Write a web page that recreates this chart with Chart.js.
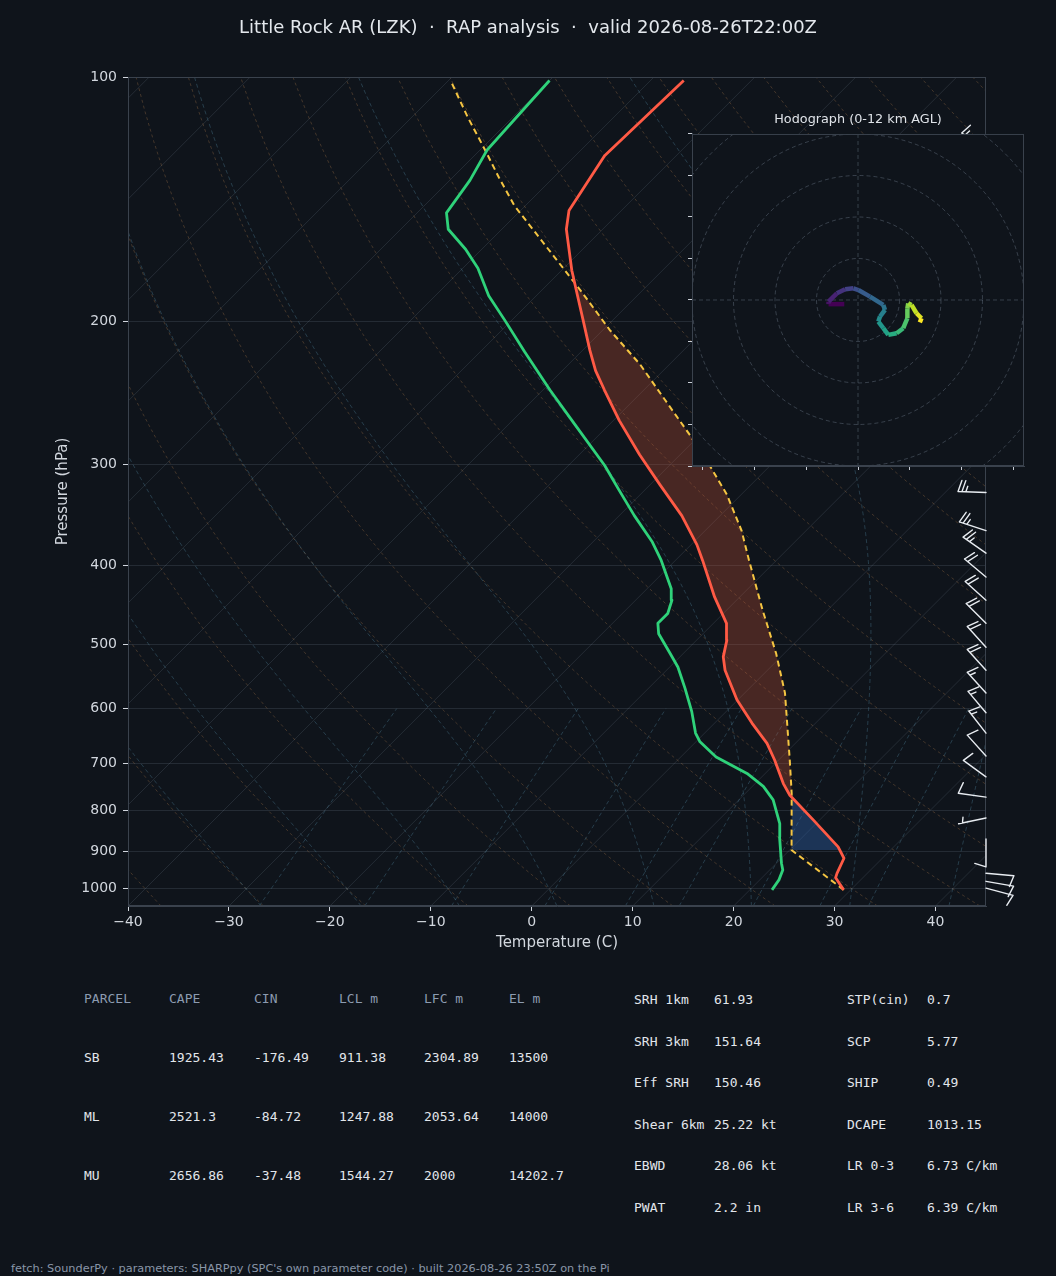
<!DOCTYPE html>
<html>
<head>
<meta charset="utf-8">
<script src="https://cdn.jsdelivr.net/npm/chart.js@4.4.1/dist/chart.umd.min.js"></script>
<style>
html, body { margin: 0; padding: 0; background: #0f141b; }
body { width: 1056px; height: 1276px; position: relative; overflow: hidden; font-family: 'DejaVu Sans', sans-serif; }
#skew { position: absolute; left: 0; top: 0; }
#hodo { position: absolute; left: 680px; top: 100px; }
#title { position: absolute; left: 0; top: 16px; width: 1056px; text-align: center; color: #e4e8ed; font-size: 18px; line-height: 22px; white-space: pre; z-index: 5; }
.cell { position: absolute; font-family: 'DejaVu Sans Mono', monospace; font-size: 13px; white-space: pre; line-height: 16px; margin-top: -8px; }
.hd { color: #8c9bb0; }
.val { color: #e2e6eb; }
#footer { position: absolute; left: 11px; top: 1262px; font-size: 11.3px; color: #8996a8; white-space: pre; }
</style>
</head>
<body>
<canvas id="skew" width="1056" height="970"></canvas>
<canvas id="hodo" width="356" height="376"></canvas>
<div id="title">Little Rock AR (LZK)  ·  RAP analysis  ·  valid 2026-08-26T22:00Z</div>
<div id="table"></div>
<div id="footer">fetch: SounderPy · parameters: SHARPpy (SPC's own parameter code) · built 2026-08-26 23:50Z on the Pi</div>
<script>
// ---- sounding ----
const tempP = [1003, 969, 957, 917, 888, 823, 767, 742, 694, 662, 625, 585, 538, 518, 494, 471, 437, 394, 377, 347, 318, 292, 265, 243, 230, 217, 199, 186, 173, 154, 146, 125, 101]
const tempT = [29.3, 27.3, 27.0, 26.2, 24.5, 19.4, 14.6, 12.8, 9.6, 7.2, 3.7, -0.1, -4.2, -5.7, -7.0, -8.7, -12.5, -17.3, -19.4, -23.8, -29.0, -34.0, -39.4, -43.9, -46.7, -49.3, -53.0, -55.9, -59.0, -63.6, -65.2, -67.1, -66.7]

const dewP = [1003, 975, 948, 930, 863, 831, 777, 748, 721, 688, 659, 643, 605, 566, 533, 513, 485, 471, 458, 441, 427, 394, 374, 347, 323, 301, 268, 243, 218, 200, 186, 172, 163, 154, 147, 134, 123, 101]
const dewT = [22.2, 21.9, 21.3, 20.5, 17.7, 16.4, 13.4, 11.1, 8.2, 3.5, 0.4, -0.9, -3.4, -6.4, -9.2, -11.3, -14.4, -15.5, -15.5, -16.4, -17.6, -21.4, -24.1, -28.5, -32.5, -36.4, -43.4, -49.3, -55.6, -60.5, -64.7, -68.5, -71.6, -75.3, -77.1, -78.0, -79.3, -80.0]

const parcelP = [1003, 896, 763, 694, 574, 513, 454, 394, 362, 327, 301, 276, 250, 226, 205, 183, 163, 144, 133, 123, 112, 101]
const parcelT = [29.3, 20.2, 14.6, 11.1, 4.0, -0.8, -6.4, -12.7, -16.4, -21.4, -26.0, -31.0, -36.9, -42.9, -49.3, -56.2, -63.4, -71.1, -75.4, -79.5, -84.5, -89.8]

const lclP = 896
const lfcP = 765
const elP = 182

// ---- winds ----
const barbP = [122, 325, 362, 386, 413, 441, 471, 504, 538, 574, 607, 643, 686, 728, 771, 818, 868, 957, 979, 998]
const barbDir = [300, 272, 288, 305, 310, 312, 315, 318, 318, 318, 320, 322, 318, 306, 278, 258, 180, 95, 100, 105]
const barbKt = [15, 25, 25, 25, 20, 20, 20, 20, 20, 15, 15, 15, 10, 10, 10, 5, 10, 10, 10, 10]

const hodoU = [-3.3, -7.1, -7.1, -5.1, -3.1, -1.1, 0.1, 2.9, 6.1, 6.5, 5.3, 4.9, 6.1, 7.3, 9.3, 10.9, 11.9, 11.9, 12.1, 12.9, 14.1, 15.3, 14.9]
const hodoV = [-1.0, -1.0, -0.4, 1.6, 2.6, 2.8, 2.4, 0.8, -1.2, -2.4, -4.0, -5.2, -6.8, -8.4, -8.0, -6.8, -4.4, -2.0, -0.8, -1.2, -3.2, -4.4, -5.4]
const hodoRings = [10, 20, 30, 40, 50]

// ---- ticks ----
const tempTicks = [-40, -30, -20, -10, 0, 10, 20, 30, 40]
const presTicks = [100, 200, 300, 400, 500, 600, 700, 800, 900, 1000]
const hodoTicksV = [-40, -30, -20, -10, 0, 10, 20, 30, 40]
const hodoTicksU = [-37.5, -25, -12.5, 0, 12.5, 25, 37.5]

// ---- background reference lines ----
const isoT = [-130, -120, -110, -100, -90, -80, -70, -60, -50, -40, -30, -20, -10, 0, 10, 20, 30, 40]
const dryT0 = [-40, -30, -20, -10, 0, 10, 20, 30, 40, 50, 60, 70, 80, 90, 100, 110, 120, 130, 140, 150, 160, 170, 180, 190, 200]
const moistT0 = [-30, -20, -10, 0, 10, 20, 30, 40, 50]
const mixW = [0.4, 1, 2, 4, 7, 10, 16, 24, 32]

// ---- table text ----
const parcelHead = ['PARCEL', 'CAPE', 'CIN', 'LCL m', 'LFC m', 'EL m']
const parcelRows = [
    ['SB', '1925.43', '-176.49', '911.38', '2304.89', '13500'],
    ['ML', '2521.3', '-84.72', '1247.88', '2053.64', '14000'],
    ['MU', '2656.86', '-37.48', '1544.27', '2000', '14202.7']
]
const paramNamesA = ['SRH 1km', 'SRH 3km', 'Eff SRH', 'Shear 6km', 'EBWD', 'PWAT']
const paramValsA = ['61.93', '151.64', '150.46', '25.22 kt', '28.06 kt', '2.2 in']
const paramNamesB = ['STP(cin)', 'SCP', 'SHIP', 'DCAPE', 'LR 0-3', 'LR 3-6']
const paramValsB = ['0.7', '5.77', '0.49', '1013.15', '6.73 C/km', '6.39 C/km']

const BG = '#0f141b'
const FRAME = '#3a424d'
const LABEL = '#d2d7de'
const SKEW = 80.4   // degC shift per decade of pressure (45 deg isotherms)

function skewX(t, p) {
    return t + SKEW * Math.log10(1050 / p)
}

function prof(P, T) {
    return P.map((p, i) => ({ x: skewX(T[i], p), y: p }))
}

function interpLogP(P, T, p) {
    for (let i = 0; i < P.length - 1; i++) {
        if ((P[i] - p) * (P[i + 1] - p) <= 0) {
            const f = Math.log(p / P[i]) / Math.log(P[i + 1] / P[i])
            return T[i] + f * (T[i + 1] - T[i])
        }
    }
    return NaN
}

function slice(P, T, pBot, pTop) {
    const out = [{ p: pBot, t: interpLogP(P, T, pBot) }]
    P.forEach((p, i) => { if (p < pBot && p > pTop) out.push({ p: p, t: T[i] }) })
    out.push({ p: pTop, t: interpLogP(P, T, pTop) })
    return out
}

// closed area between parcel and environment
function region(pBot, pTop) {
    const a = slice(parcelP, parcelT, pBot, pTop)
    const b = slice(tempP, tempT, pBot, pTop).reverse()
    return a.concat(b).map(q => ({ x: skewX(q.t, q.p), y: q.p }))
}

// pressure levels for reference curves
const levels = []
for (let p = 1050; p >= 100; p -= 10) levels.push(p)

function dryLine(t0) {
    const th = t0 + 273.15
    return levels.map(p => ({ x: skewX(th * Math.pow(p / 1000, 0.2857) - 273.15, p), y: p }))
}

function dTdp(T, p) {
    const es = 6.112 * Math.exp(17.67 * (T - 273.15) / (T - 29.65))
    const rs = 0.622 * es / (p - es)
    const Lv = 2.501e6
    return (287.04 * T + Lv * rs) / (p * (1005.7 + Lv * Lv * rs * 0.622 / (287.04 * T * T)))
}

function moistLine(t0) {
    const pts = []
    let T = t0 + 273.15
    let p = 1000
    const low = []
    let Tl = T
    for (let q = 1000; q < 1050; q += 5) {
        const k1 = dTdp(Tl, q)
        const k2 = dTdp(Tl + k1 * 5, q + 5)
        Tl += 2.5 * (k1 + k2)
        low.push({ x: skewX(Tl - 273.15, q + 5), y: q + 5 })
    }
    low.reverse().forEach(o => pts.push(o))
    pts.push({ x: skewX(T - 273.15, p), y: p })
    while (p > 100) {
        const k1 = dTdp(T, p)
        const k2 = dTdp(T - k1 * 5, p - 5)
        T -= 2.5 * (k1 + k2)
        p -= 5
        pts.push({ x: skewX(T - 273.15, p), y: p })
    }
    return pts
}

function mixLine(w) {
    const pts = []
    for (let p = 1050; p >= 600; p -= 25) {
        const e = (w / 1000) * p / (0.622 + w / 1000)
        const l = Math.log(e / 6.112)
        pts.push({ x: skewX(243.5 * l / (17.67 - l), p), y: p })
    }
    return pts
}

function line(data, color, width, dash, order) {
    return {
        data: data, borderColor: color, borderWidth: width, borderDash: dash || [],
        pointRadius: 0, fill: false, order: order, tension: 0
    }
}

const datasets = []
isoT.forEach(t => datasets.push(line([{ x: skewX(t, 1050), y: 1050 }, { x: skewX(t, 100), y: 100 }], 'rgba(150,165,185,0.16)', 1, [], 20)))
dryT0.forEach(t => datasets.push(line(dryLine(t), 'rgba(205,145,85,0.28)', 1, [3, 3], 19)))
moistT0.forEach(t => datasets.push(line(moistLine(t), 'rgba(95,160,190,0.30)', 1, [4, 3], 18)))
mixW.forEach(w => datasets.push(line(mixLine(w), 'rgba(95,160,190,0.30)', 1, [4, 3], 17)))

datasets.push({
    data: region(lfcP, elP), borderWidth: 0, pointRadius: 0, fill: 'shape',
    backgroundColor: 'rgba(205,85,55,0.30)', order: 5
})
datasets.push({
    data: region(lclP, lfcP), borderWidth: 0, pointRadius: 0, fill: 'shape',
    backgroundColor: 'rgba(50,105,185,0.38)', order: 5
})
datasets.push(line(prof(parcelP, parcelT), '#f5c542', 2, [6, 4], 2))
datasets.push(Object.assign(line(prof(dewP, dewT), '#2fd27a', 2.8, [], 1), { borderJoinStyle: 'round' }))
datasets.push(Object.assign(line(prof(tempP, tempT), '#ff5a45', 2.8, [], 0), { borderJoinStyle: 'round' }))

function drawBarb(ctx, x, y, dirFrom, kt) {
    const L = 28
    const a = dirFrom * Math.PI / 180
    const dx = Math.sin(a), dy = -Math.cos(a)
    const px = -dy, py = dx
    const tx = x + dx * L, ty = y + dy * L
    const H = 0.4 * L, sp = 0.14 * L, lean = 0.125 * L
    ctx.beginPath()
    ctx.moveTo(x, y)
    ctx.lineTo(tx, ty)
    let rest = Math.round(kt / 5) * 5
    let pos = 0
    while (rest >= 50) {
        const ax = tx - dx * pos, ay = ty - dy * pos
        ctx.moveTo(ax, ay)
        ctx.lineTo(ax + px * H - dx * lean, ay + py * H - dy * lean)
        ctx.lineTo(ax - dx * 2 * lean, ay - dy * 2 * lean)
        pos += 2 * lean + sp
        rest -= 50
    }
    while (rest >= 10) {
        const ax = tx - dx * pos, ay = ty - dy * pos
        ctx.moveTo(ax, ay)
        ctx.lineTo(ax + px * H - dx * lean, ay + py * H - dy * lean)
        pos += sp
        rest -= 10
    }
    if (rest >= 5) {
        if (pos === 0) pos = sp
        const ax = tx - dx * pos, ay = ty - dy * pos
        ctx.moveTo(ax, ay)
        ctx.lineTo(ax + px * H / 2 - dx * lean / 2, ay + py * H / 2 - dy * lean / 2)
    }
    ctx.stroke()
}

const skewExtras = {
    id: 'skewExtras',
    afterDatasetsDraw(chart) {
        const { ctx, chartArea: a, scales } = chart
        ctx.save()
        ctx.strokeStyle = FRAME
        ctx.lineWidth = 1
        ctx.strokeRect(a.left + 0.5, a.top + 0.5, a.right - a.left - 1, a.bottom - a.top - 1)
        ctx.strokeStyle = '#e8ecf1'
        ctx.lineWidth = 1.4
        ctx.lineCap = 'round'
        barbP.forEach((p, i) => drawBarb(ctx, a.right, scales.y.getPixelForValue(p), barbDir[i], barbKt[i]))
        ctx.restore()
    }
}

new Chart(document.getElementById('skew'), {
    type: 'line',
    data: { datasets: datasets },
    options: {
        responsive: false,
        animation: false,
        events: [],
        layout: { padding: { left: 0, right: 70, top: 77, bottom: 0 } },
        plugins: { legend: { display: false }, tooltip: { enabled: false } },
        scales: {
            x: {
                type: 'linear', min: -40, max: 45,
                afterBuildTicks: s => { s.ticks = tempTicks.map(v => ({ value: v })) },
                afterFit: s => { s.height = 64 },
                grid: { drawOnChartArea: false, tickLength: 5, tickColor: LABEL },
                border: { color: FRAME },
                ticks: {
                    color: LABEL, padding: 3, maxRotation: 0,
                    font: { family: 'DejaVu Sans', size: 14 },
                    callback: v => String(v).replace('-', '\u2212')
                },
                title: {
                    display: true, text: 'Temperature (C)', color: LABEL,
                    font: { family: 'DejaVu Sans', size: 15 }, padding: { top: 0, bottom: 18 }
                }
            },
            y: {
                type: 'logarithmic', reverse: true, min: 100, max: 1050,
                afterBuildTicks: s => { s.ticks = presTicks.map(v => ({ value: v })) },
                afterFit: s => { s.width = 128 },
                grid: { color: 'rgba(150,165,185,0.16)', tickLength: 5, tickColor: LABEL },
                border: { color: FRAME },
                ticks: {
                    color: LABEL, padding: 6,
                    font: { family: 'DejaVu Sans', size: 14 },
                    callback: v => String(v)
                },
                title: {
                    display: true, text: 'Pressure (hPa)', color: LABEL,
                    font: { family: 'DejaVu Sans', size: 15 }, padding: { top: 54, bottom: 0 }
                }
            }
        }
    },
    plugins: [skewExtras]
})

// ---- hodograph ----
const viridis = [[68, 1, 84], [72, 36, 117], [65, 68, 135], [53, 95, 141], [42, 120, 142], [33, 145, 140], [34, 168, 132], [68, 191, 112], [122, 209, 81], [189, 223, 38], [253, 231, 37]]

function viridisAt(f) {
    f = Math.max(0, Math.min(1, f)) * (viridis.length - 1)
    const i = Math.min(Math.floor(f), viridis.length - 2)
    const r = f - i
    const c = viridis[i].map((v, k) => Math.round(v + r * (viridis[i + 1][k] - v)))
    return 'rgb(' + c.join(',') + ')'
}

const hodoExtras = {
    id: 'hodoExtras',
    beforeDraw(chart) {
        const { ctx, chartArea: a } = chart
        ctx.save()
        ctx.fillStyle = BG
        ctx.fillRect(a.left, a.top, a.right - a.left, a.bottom - a.top)
        ctx.restore()
    },
    beforeDatasetsDraw(chart) {
        const { ctx, chartArea: a, scales: { x, y } } = chart
        const cx = x.getPixelForValue(0), cy = y.getPixelForValue(0)
        ctx.save()
        ctx.beginPath()
        ctx.rect(a.left, a.top, a.right - a.left, a.bottom - a.top)
        ctx.clip()
        ctx.strokeStyle = 'rgba(150,165,185,0.30)'
        ctx.lineWidth = 1
        ctx.setLineDash([4, 3])
        hodoRings.forEach(r => {
            ctx.beginPath()
            ctx.arc(cx, cy, x.getPixelForValue(r) - cx, 0, Math.PI * 2)
            ctx.stroke()
        })
        ctx.beginPath()
        ctx.moveTo(a.left, cy); ctx.lineTo(a.right, cy)
        ctx.moveTo(cx, a.top); ctx.lineTo(cx, a.bottom)
        ctx.stroke()
        ctx.restore()
    },
    afterDraw(chart) {
        const { ctx, chartArea: a } = chart
        ctx.save()
        ctx.strokeStyle = FRAME
        ctx.lineWidth = 1
        ctx.strokeRect(a.left + 0.5, a.top + 0.5, a.right - a.left - 1, a.bottom - a.top - 1)
        ctx.restore()
    }
}

new Chart(document.getElementById('hodo'), {
    type: 'line',
    data: {
        datasets: [{
            data: hodoU.map((u, i) => ({ x: u, y: hodoV[i] })),
            borderWidth: 4.5, pointRadius: 0, tension: 0, fill: false,
            borderCapStyle: 'butt', borderJoinStyle: 'miter',
            segment: { borderColor: c => viridisAt(c.p0DataIndex / (hodoU.length - 2)) }
        }]
    },
    options: {
        responsive: false,
        animation: false,
        events: [],
        layout: { padding: { left: 12, right: 12, top: 0, bottom: 0 } },
        plugins: {
            legend: { display: false }, tooltip: { enabled: false },
            title: {
                display: true, text: 'Hodograph (0-12 km AGL)', color: '#dfe3e8',
                font: { family: 'DejaVu Sans', size: 12.8, weight: 'normal' },
                padding: { top: 12.3, bottom: 6.3 }
            }
        },
        scales: {
            x: {
                type: 'linear', min: -40, max: 40,
                afterBuildTicks: s => { s.ticks = hodoTicksU.map(v => ({ value: v })) },
                afterFit: s => { s.height = 10 },
                grid: { drawOnChartArea: false, tickLength: 4, tickColor: '#c9ced6' },
                border: { color: FRAME },
                ticks: { display: false }
            },
            y: {
                type: 'linear', min: -40, max: 40,
                afterBuildTicks: s => { s.ticks = hodoTicksV.map(v => ({ value: v })) },
                afterFit: s => { s.width = 0 },
                grid: { drawOnChartArea: false, tickLength: 4, tickColor: '#c9ced6' },
                border: { color: FRAME },
                ticks: { display: false }
            }
        }
    },
    plugins: [hodoExtras]
})

// ---- parameter table ----
const table = document.getElementById('table')
function cell(text, x, y, cls) {
    const d = document.createElement('div')
    d.className = 'cell ' + cls
    d.style.left = x + 'px'
    d.style.top = y + 'px'
    d.textContent = text
    table.appendChild(d)
}
const colX = [84, 169, 254, 339, 424, 509]
parcelHead.forEach((h, i) => cell(h, colX[i], 999, 'hd'))
parcelRows.forEach((row, r) => row.forEach((v, i) => cell(v, colX[i], 1058 + r * 59, 'val')))
paramNamesA.forEach((n, r) => {
    const y = 1000 + r * 41.5
    cell(n, 634, y, 'val')
    cell(paramValsA[r], 714, y, 'val')
    cell(paramNamesB[r], 847, y, 'val')
    cell(paramValsB[r], 927, y, 'val')
})
</script>
</body>
</html>
